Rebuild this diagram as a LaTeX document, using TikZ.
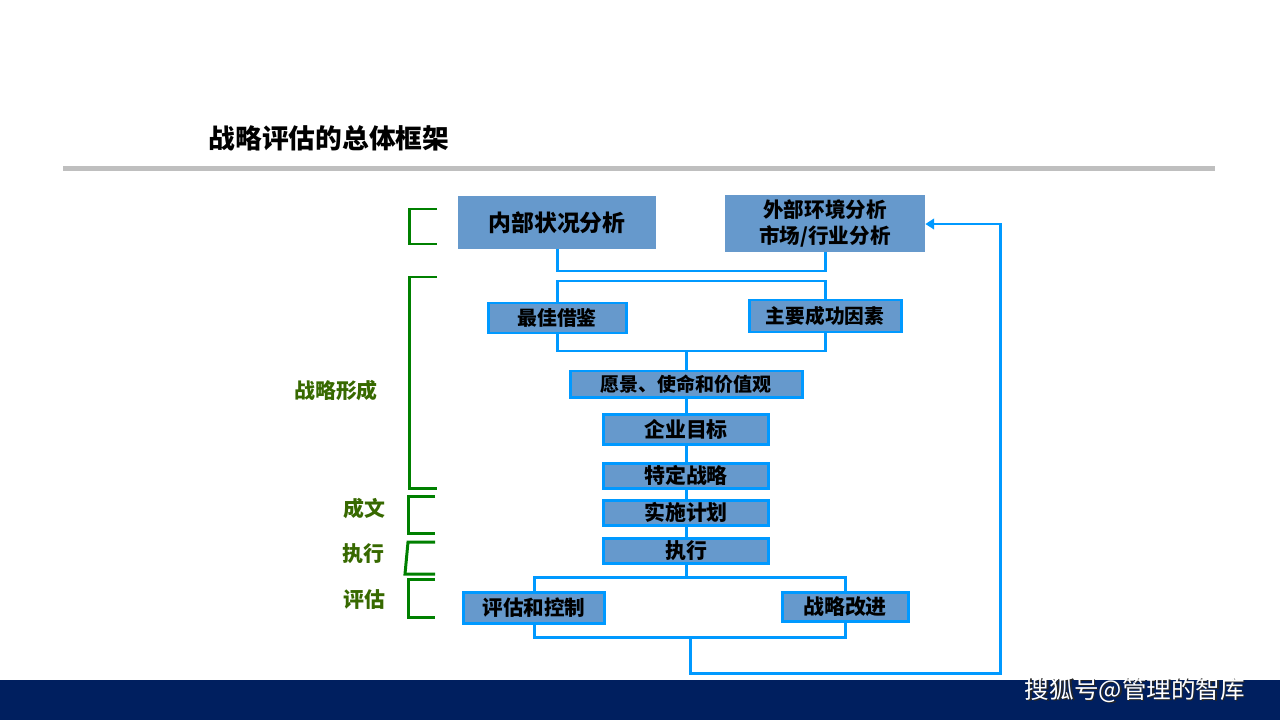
\documentclass[tikz,border=0pt]{standalone}
\usepackage{fontspec}
\setmainfont{Noto Sans CJK SC}
\usetikzlibrary{arrows.meta}
\definecolor{boxfill}{RGB}{102,153,204}
\definecolor{linkblue}{RGB}{0,153,255}
\definecolor{brgreen}{RGB}{0,128,0}
\definecolor{lblgreen}{RGB}{55,105,0}
\definecolor{barnavy}{RGB}{0,31,95}
\definecolor{rulegray}{RGB}{191,191,191}
\tikzset{
  box/.style={draw=linkblue, line width=1.7pt, fill=boxfill, inner sep=0pt, font=\bfseries, text=black, align=center},
  bigbox/.style={fill=boxfill, inner sep=0pt, font=\bfseries, text=black, align=center},
  conn/.style={draw=linkblue, line width=1.7pt},
  brk/.style={draw=brgreen, line width=1.7pt},
  lbl/.style={text=lblgreen, font=\fontsize{11.9pt}{14pt}\selectfont\bfseries},
}
\begin{document}
\begin{tikzpicture}[x=0.02cm, y=-0.02cm]
\useasboundingbox (0,0) rectangle (1280,720);
% title and rule
\node[anchor=center, font=\fontsize{15.2pt}{18pt}\selectfont\bfseries] (title) at (329,138) {战略评估的总体框架};
\fill[rulegray] (63,165.5) rectangle (1215,170.5);
% bottom bar
\fill[barnavy] (0,680) rectangle (1280,720);
\node[text=black!85, font=\fontsize{14pt}{16pt}\selectfont] (wmshadow) at (1136.5,691.5) {搜狐号@管理的智库};
\node[text=white, font=\fontsize{14pt}{16pt}\selectfont] (wm) at (1135,690) {搜狐号@管理的智库};

% boxes
\node[bigbox, minimum width=198*0.02cm, minimum height=53*0.02cm, font=\fontsize{13pt}{15pt}\selectfont\bfseries] (nb) at (557,222.5) {内部状况分析};
\node[bigbox, minimum width=200*0.02cm, minimum height=57*0.02cm, font=\fontsize{11.7pt}{14.7pt}\selectfont\bfseries] (wb) at (825,223.5) {外部环境分析\\市场/行业分析};
\node[box, minimum width=138*0.02cm, minimum height=30*0.02cm, font=\fontsize{11.3pt}{13pt}\selectfont\bfseries] (zj) at (557,318) {最佳借鉴};
\node[box, minimum width=152*0.02cm, minimum height=32*0.02cm, font=\fontsize{11.2pt}{13pt}\selectfont\bfseries] (zy) at (825,316) {主要成功因素};
\node[box, minimum width=232*0.02cm, minimum height=26*0.02cm, font=\fontsize{10.8pt}{13pt}\selectfont\bfseries] (yj) at (686,384) {愿景、使命和价值观};
\node[box, minimum width=165*0.02cm, minimum height=30*0.02cm, font=\fontsize{11.9pt}{13pt}\selectfont\bfseries] (qy) at (686,429) {企业目标};
\node[box, minimum width=165*0.02cm, minimum height=25*0.02cm, font=\fontsize{11.9pt}{13pt}\selectfont\bfseries] (td) at (686,475.5) {特定战略};
\node[box, minimum width=165*0.02cm, minimum height=25*0.02cm, font=\fontsize{11.9pt}{13pt}\selectfont\bfseries] (ss) at (686,512.5) {实施计划};
\node[box, minimum width=165*0.02cm, minimum height=25*0.02cm, font=\fontsize{11.9pt}{13pt}\selectfont\bfseries] (zx) at (686,550.5) {执行};
\node[box, minimum width=141*0.02cm, minimum height=31*0.02cm, font=\fontsize{11.7pt}{13pt}\selectfont\bfseries] (pg) at (534,607.5) {评估和控制};
\node[box, minimum width=126*0.02cm, minimum height=29*0.02cm, font=\fontsize{11.9pt}{13pt}\selectfont\bfseries] (gj) at (845,606.5) {战略改进};

% connector points
\coordinate (j1) at (557,271); \coordinate (j2) at (825,271);
\coordinate (k1) at (557,281); \coordinate (k2) at (825,281);
\coordinate (m1) at (557,351); \coordinate (m2) at (825,351); \coordinate (m3) at (686,351);
\coordinate (n1) at (534,577); \coordinate (n2) at (845,577); \coordinate (n3) at (686,577);
\coordinate (p1) at (534,637); \coordinate (p2) at (845,637);
\coordinate (q0) at (690,637); \coordinate (q1) at (690,673);
\coordinate (q2) at (1000,673); \coordinate (q3) at (1000,224);

% connectors
\draw[conn] (nb.south) -- (j1) -- (j2) -- (wb.south);
\draw[conn] (zj.north) -- (k1) -- (k2) -- (zy.north);
\draw[conn] (zj.south) -- (m1) -- (m2) -- (zy.south);
\draw[conn] (m3) -- (yj.north);
\draw[conn] (yj.south) -- (qy.north);
\draw[conn] (qy.south) -- (td.north);
\draw[conn] (td.south) -- (ss.north);
\draw[conn] (ss.south) -- (zx.north);
\draw[conn] (zx.south) -- (n3);
\draw[conn] (pg.north) -- (n1) -- (n2) -- (gj.north);
\draw[conn] (pg.south) -- (p1) -- (p2) -- (gj.south);
\draw[conn, -{Triangle[length=5pt, width=6pt]}] (q0) -- (q1) -- (q2) -- (q3) -- (wb.east |- q3);

% green brackets
\draw[brk] (437,209) -- (409,209) -- (409,244) -- (437,244);
\draw[brk] (437,277) -- (409,277) -- (409,488) -- (437,488);
\draw[brk] (435,496) -- (408,496) -- (408,533) -- (435,533);
\draw[brk] (435,542) -- (408,542) -- (405,574) -- (435,574);
\draw[brk] (435,579) -- (408,579) -- (408,617) -- (435,617);

% green labels
\node[lbl] (l1) at (336,391) {战略形成};
\node[lbl] (l2) at (364.5,509) {成文};
\node[lbl] (l3) at (363.5,554) {执行};
\node[lbl] (l4) at (364.5,600) {评估};
\end{tikzpicture}
\end{document}
